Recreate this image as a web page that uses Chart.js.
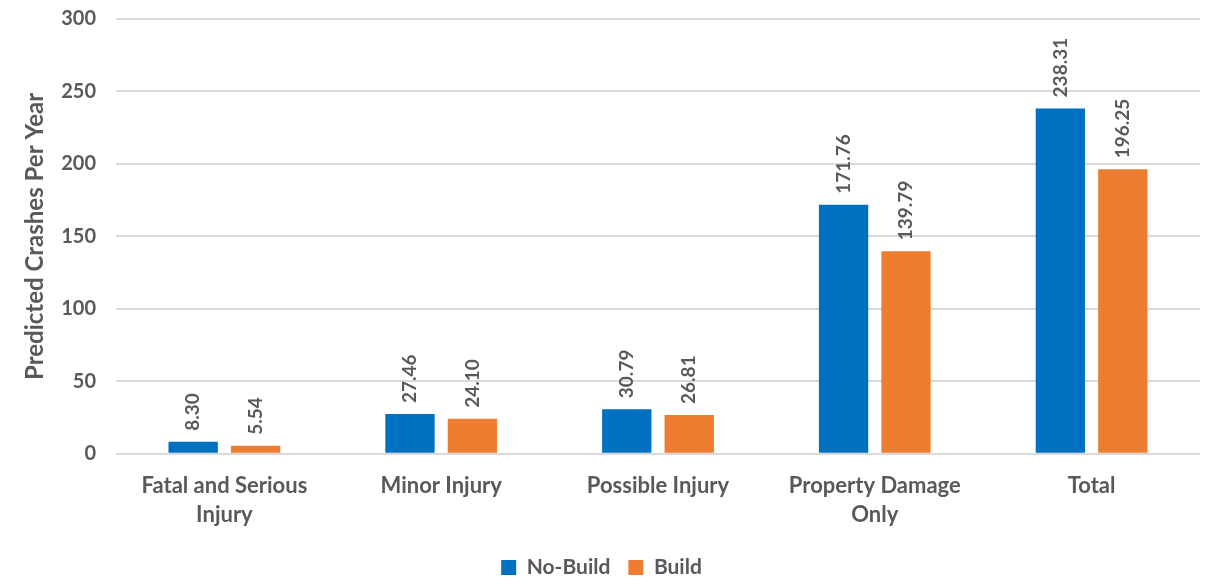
<!DOCTYPE html>
<html>
<head>
<meta charset="utf-8">
<script src="https://cdn.jsdelivr.net/npm/chart.js@4/dist/chart.umd.min.js"></script>
<style>
  html, body { margin: 0; padding: 0; background: #fff; overflow: hidden; }
  #wrap { width: 1205px; height: 588px; }
</style>
</head>
<body>
<div id="wrap"><canvas id="crashChart" width="1205" height="588"></canvas></div>
<script>
const categories = [["Fatal and Serious", "Injury"], "Minor Injury", "Possible Injury", ["Property Damage", "Only"], "Total"];
const noBuild = [8.30, 27.46, 30.79, 171.76, 238.31];
const build = [5.54, 24.10, 26.81, 139.79, 196.25];
const yTicks = [0, 50, 100, 150, 200, 250, 300];

const textGray = "#595959";
const fontFamily = "Lato, 'Open Sans', sans-serif";

// labels rotated, sitting above each bar
const barLabels = {
  id: "barLabels",
  afterDatasetsDraw(chart) {
    const ctx = chart.ctx;
    ctx.save();
    ctx.fillStyle = textGray;
    ctx.font = "bold 19px " + fontFamily;
    ctx.textAlign = "left";
    ctx.textBaseline = "middle";
    chart.data.datasets.forEach((ds, i) => {
      chart.getDatasetMeta(i).data.forEach((bar, j) => {
        ctx.save();
        ctx.translate(bar.x, bar.y - 11);
        ctx.rotate(-Math.PI / 2);
        ctx.fillText(ds.data[j].toFixed(2), 0, 0);
        ctx.restore();
      });
    });
    ctx.restore();
  }
};

new Chart(document.getElementById("crashChart").getContext("2d"), {
  type: "bar",
  data: {
    labels: categories,
    datasets: [
      { label: "No-Build", data: noBuild, backgroundColor: "#0070C0" },
      { label: "Build", data: build, backgroundColor: "#ED7D31" }
    ]
  },
  options: {
    responsive: false,
    animation: false,
    categoryPercentage: 0.576,
    barPercentage: 0.79,
    layout: { padding: { top: 19, right: 5, left: 3, bottom: 0 } },
    plugins: {
      legend: {
        position: "bottom",
        labels: {
          boxWidth: 15,
          boxHeight: 15,
          color: textGray,
          font: { family: fontFamily, size: 21, weight: "bold" },
          padding: 18
        }
      },
      tooltip: { enabled: false }
    },
    scales: {
      x: {
        grid: { display: false },
        border: { display: false },
        ticks: {
          color: textGray,
          font: { family: fontFamily, size: 22, weight: "bold", lineHeight: 1.3 },
          padding: 10,
          maxRotation: 0
        }
      },
      y: {
        min: 0,
        max: 300,
        afterBuildTicks: axis => { axis.ticks = yTicks.map(v => ({ value: v })); },
        afterFit: axis => {
          axis.width = 113;
          axis.paddingTop = 0;
          axis.paddingBottom = 0;
        },
        grid: { color: "#D9D9D9", lineWidth: 2, drawTicks: false },
        border: { display: false },
        ticks: {
          color: textGray,
          font: { family: fontFamily, size: 20, weight: "bold" },
          padding: 20
        },
        title: {
          display: true,
          text: "Predicted Crashes Per Year",
          color: textGray,
          font: { family: fontFamily, size: 24, weight: "bold" },
          padding: { top: 18, bottom: 0 }
        }
      }
    }
  },
  plugins: [barLabels]
});
</script>
</body>
</html>
